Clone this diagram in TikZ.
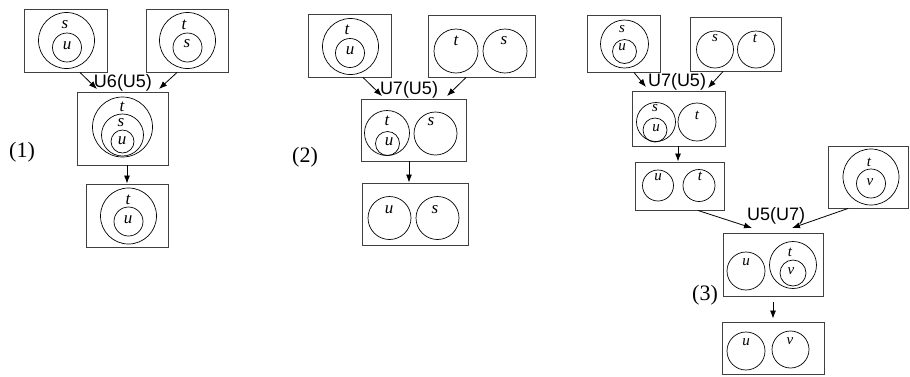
\documentclass[tikz,border=0pt]{standalone}
\usepackage{fontspec}
\setmainfont{Liberation Serif}
\newfontfamily\opfont{Liberation Sans}
\newfontfamily\setfont{Liberation Serif Italic}
\usetikzlibrary{arrows.meta}
\begin{document}
\begin{tikzpicture}[x=1pt,y=-1pt,
  box/.style={draw=black!75, line width=0.95pt, inner sep=0pt, minimum width=#1},
  ht/.style={minimum height=#1},
  set/.style={circle, draw, line width=0.7pt, inner sep=0pt, minimum size=2*#1},
  lbl/.style={inner sep=0pt, font=\fontsize{17}{17}\selectfont\setfont},
  lbs/.style={inner sep=0pt, font=\fontsize{15}{15}\selectfont\setfont},
  op/.style={inner sep=0pt, font=\fontsize{18}{18}\selectfont\opfont},
  num/.style={inner sep=0pt, font=\fontsize{22}{22}\selectfont},
  arr/.style={line width=0.8pt, -{Latex[length=8pt,width=6pt]}}]
\useasboundingbox (0,0) rectangle (910,376);

% ---------- (1) ----------
\node[num] (n1) at (22,152) {(1)};
\node[box=83, ht=63] (a1) at (65.5,40.5) {};
\node[set=28] (a1o) at (66.5,40.5) {};
\node[set=14.5] (a1i) at (67,47.5) {};
\node[lbl] (a1s) at (65,25) {s};
\node[lbl] (a1u) at (67,46) {u};

\node[box=82, ht=63] (b1) at (187,40.5) {};
\node[set=28] (b1o) at (187.5,40.5) {};
\node[set=14.5] (b1i) at (187.5,47.5) {};
\node[lbl] (b1t) at (184,25) {t};
\node[lbl] (b1s) at (187,44) {s};

\node[op] (o1) at (123,83) {U6(U5)};
\coordinate (e1l) at (97,89);
\coordinate (e1r) at (159,89);
\draw[arr] ([xshift=14.5pt]a1.south) -- (e1l);
\draw[arr] ([xshift=-10pt]b1.south) -- (e1r);

\node[box=91, ht=73] (c1) at (122.5,128.5) {};
\node[set=30] (c1o) at (122.5,127) {};
\node[set=21] (c1m) at (122.5,135) {};
\node[set=11.5] (c1i) at (122.5,141.5) {};
\node[lbl] (c1t) at (122,107) {t};
\node[lbl] (c1s) at (121,123) {s};
\node[lbl] (c1u) at (122,141) {u};

\node[box=82, ht=63] (d1) at (127,215.5) {};
\node[set=28] (d1o) at (128.5,216) {};
\node[set=14.5] (d1i) at (128.5,221.5) {};
\node[lbl] (d1t) at (128,200) {t};
\node[lbl] (d1u) at (128,220) {u};
\draw[arr] (c1.south -| d1.north) -- (d1.north);

% ---------- (2) ----------
\node[num] (n2) at (305,157) {(2)};
\node[box=83, ht=63] (a2) at (349.5,45.5) {};
\node[set=28] (a2o) at (350.5,46.5) {};
\node[set=14.5] (a2i) at (350,53) {};
\node[lbl] (a2t) at (347,30) {t};
\node[lbl] (a2u) at (350,51) {u};

\node[box=107, ht=62] (b2) at (481.5,46) {};
\node[set=22] (b2t0) at (456,51) {};
\node[set=22] (b2s0) at (505,51) {};
\node[lbl] (b2t) at (456,41) {t};
\node[lbl] (b2s) at (504,41) {s};

\node[op] (o2) at (409,90) {U7(U5)};
\coordinate (e2l) at (382,96);
\coordinate (e2r) at (447,96);
\draw[arr] ([xshift=13.5pt]a2.south) -- (e2l);
\draw[arr] ([xshift=-15.5pt]b2.south) -- (e2r);

\node[box=105, ht=62] (c2) at (413.5,130) {};
\node[set=22.5] (c2t0) at (387,133) {};
\node[set=12] (c2u0) at (387.5,143.5) {};
\node[set=21.5] (c2s0) at (435.5,133.5) {};
\node[lbl] (c2t) at (387,121) {t};
\node[lbl] (c2u) at (389,142) {u};
\node[lbl] (c2s) at (431,122) {s};

\node[box=106, ht=62] (d2) at (415,214) {};
\node[set=21.5] (d2u0) at (389.5,218) {};
\node[set=21.5] (d2s0) at (437.5,218) {};
\node[lbl] (d2u) at (389,210) {u};
\node[lbl] (d2s) at (435,210) {s};
\draw[arr] ([xshift=-4.5pt]c2.south) -- ([xshift=-6pt]d2.north);

% ---------- (3) ----------
\node[num] (n3) at (705,295) {(3)};
\node[box=73, ht=57] (a3) at (623.5,43.5) {};
\node[set=24] (a3o) at (624.5,44) {};
\node[set=12] (a3i) at (624.5,51.5) {};
\node[lbs] (a3s) at (622,29) {s};
\node[lbs] (a3u) at (622,47) {u};

\node[box=91, ht=54] (b3) at (735.5,44) {};
\node[set=18.5] (b3s0) at (715,49.5) {};
\node[set=18.5] (b3t0) at (756,49.5) {};
\node[lbs] (b3s) at (715,38) {s};
\node[lbs] (b3t) at (755,38) {t};

\node[op] (o3) at (677,82) {U7(U5)};
\coordinate (e3l) at (646,87);
\coordinate (e3r) at (708,88);
\draw[arr] ([xshift=10.5pt]a3.south) -- (e3l);
\draw[arr] ([xshift=-12.5pt]b3.south) -- (e3r);

\node[box=93, ht=55] (c3) at (678.5,118.5) {};
\node[set=19.5] (c3s0) at (656,122) {};
\node[set=12] (c3u0) at (655,130) {};
\node[set=19] (c3t0) at (697,122) {};
\node[lbs] (c3s) at (655,108) {s};
\node[lbs] (c3u) at (656,128) {u};
\node[lbs] (c3t) at (697,115) {t};

\node[box=89, ht=48] (d3) at (679.5,186) {};
\node[set=15.5] (d3u0) at (658,185.5) {};
\node[set=16] (d3t0) at (699,185.5) {};
\node[lbs] (d3u) at (658,177) {u};
\node[lbs] (d3t) at (700,176) {t};
\draw[arr] (c3.south -| 678,0) -- (d3.north -| 678,0);

\node[box=80, ht=62] (e3) at (868,177) {};
\node[set=28] (e3o) at (871,177) {};
\node[set=14.5] (e3i) at (871,183.5) {};
\node[lbs] (e3t) at (869,162) {t};
\node[lbs] (e3v) at (870,182) {v};

\node[op] (o4) at (776,216) {U5(U7)};
\coordinate (e4l) at (752,228);
\coordinate (e4r) at (792,228);
\draw[arr] ([xshift=18.5pt]d3.south) -- (e4l);
\draw[arr] ([xshift=-20pt]e3.south) -- (e4r);

\node[box=100, ht=63] (f3) at (773,264.5) {};
\node[set=19] (f3u0) at (746,271) {};
\node[set=23.5] (f3t0) at (793,265) {};
\node[set=13] (f3v0) at (793,273) {};
\node[lbs] (f3u) at (746,262) {u};
\node[lbs] (f3t) at (790,252) {t};
\node[lbs] (f3v) at (791,271) {v};

\node[box=102, ht=52] (g3) at (773,348) {};
\node[set=19] (g3u0) at (746,351) {};
\node[set=18.5] (g3v0) at (790.5,349.5) {};
\node[lbs] (g3u) at (746,342) {u};
\node[lbs] (g3v) at (790,341) {v};
\draw[arr] ([yshift=-6pt]f3.south) -- ([yshift=3pt]g3.north);
\end{tikzpicture}
\end{document}
